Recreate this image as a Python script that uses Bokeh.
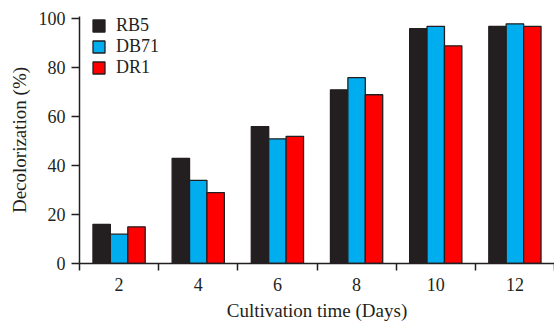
from bokeh.plotting import figure
from bokeh.models import ColumnDataSource, Range1d, FixedTicker, Legend, LegendItem
from bokeh.embed import file_html
from bokeh.resources import INLINE

# ---- data ----
days = ["2", "4", "6", "8", "10", "12"]
series_names = ["RB5", "DB71", "DR1"]
rb5 = [16, 43, 56, 71, 96, 97]
db71 = [12, 34, 51, 76, 97, 98]
dr1 = [15, 29, 52, 69, 89, 97]
colors = ["#231f20", "#00aeef", "#ff0000"]

FONT = "Liberation Serif"
INK = "#231f20"

n = len(days)
centers = [i + 0.5 for i in range(n)]
bar_w = 0.22
offsets = [-bar_w, 0.0, bar_w]

p = figure(width=554, height=323, output_backend="svg", toolbar_location=None,
           x_range=Range1d(0, 6.0), y_range=Range1d(0, 101),
           min_border_left=79, min_border_right=0, min_border_top=16, min_border_bottom=60)
p.outline_line_color = None
p.xgrid.grid_line_color = None
p.ygrid.grid_line_color = None
p.background_fill_color = "white"

renderers = []
for vals, off, col in zip([rb5, db71, dr1], offsets, colors):
    src = ColumnDataSource(dict(x=[c + off for c in centers], top=vals))
    r = p.vbar(x="x", top="top", bottom=0, width=bar_w, source=src,
               fill_color=col, line_color=INK, line_width=1.3)
    renderers.append(r)

# x axis: labels at group centers, tick marks at group boundaries
xa = p.xaxis[0]
xa.ticker = FixedTicker(ticks=centers, minor_ticks=list(range(n + 1)))
xa.major_label_overrides = {c: d for c, d in zip(centers, days)}
xa.major_tick_line_color = None
xa.major_tick_out = 0
xa.major_tick_in = 0
xa.minor_tick_line_color = INK
xa.minor_tick_line_width = 1.5
xa.minor_tick_out = 7
xa.minor_tick_in = 0
xa.axis_line_color = INK
xa.axis_line_width = 1.5
xa.major_label_text_font = FONT
xa.major_label_text_font_size = "18px"
xa.major_label_text_color = INK
xa.major_label_standoff = 7
xa.axis_label = "Cultivation time (Days)"
xa.axis_label_text_font = FONT
xa.axis_label_text_font_size = "19px"
xa.axis_label_text_font_style = "normal"
xa.axis_label_text_color = INK
xa.axis_label_standoff = 6

ya = p.yaxis[0]
ya.ticker = FixedTicker(ticks=[0, 20, 40, 60, 80, 100])
ya.major_tick_line_color = INK
ya.major_tick_line_width = 1.5
ya.major_tick_out = 8
ya.major_tick_in = 0
ya.minor_tick_line_color = None
ya.axis_line_color = INK
ya.axis_line_width = 1.5
ya.major_label_text_font = FONT
ya.major_label_text_font_size = "18px"
ya.major_label_text_color = INK
ya.major_label_standoff = 6
ya.axis_label = "Decolorization (%)"
ya.axis_label_text_font = FONT
ya.axis_label_text_font_size = "19px"
ya.axis_label_text_font_style = "normal"
ya.axis_label_text_color = INK
ya.axis_label_standoff = 6

legend = Legend(items=[LegendItem(label=nm, renderers=[r]) for nm, r in zip(series_names, renderers)],
                location=(12, 185), padding=0, spacing=0, margin=0,
                glyph_width=15, glyph_height=15, label_standoff=10,
                label_text_font=FONT, label_text_font_size="18px", label_text_color=INK,
                border_line_color=None, background_fill_alpha=0)
p.add_layout(legend)

open("out.html", "w").write(file_html(p, INLINE))
